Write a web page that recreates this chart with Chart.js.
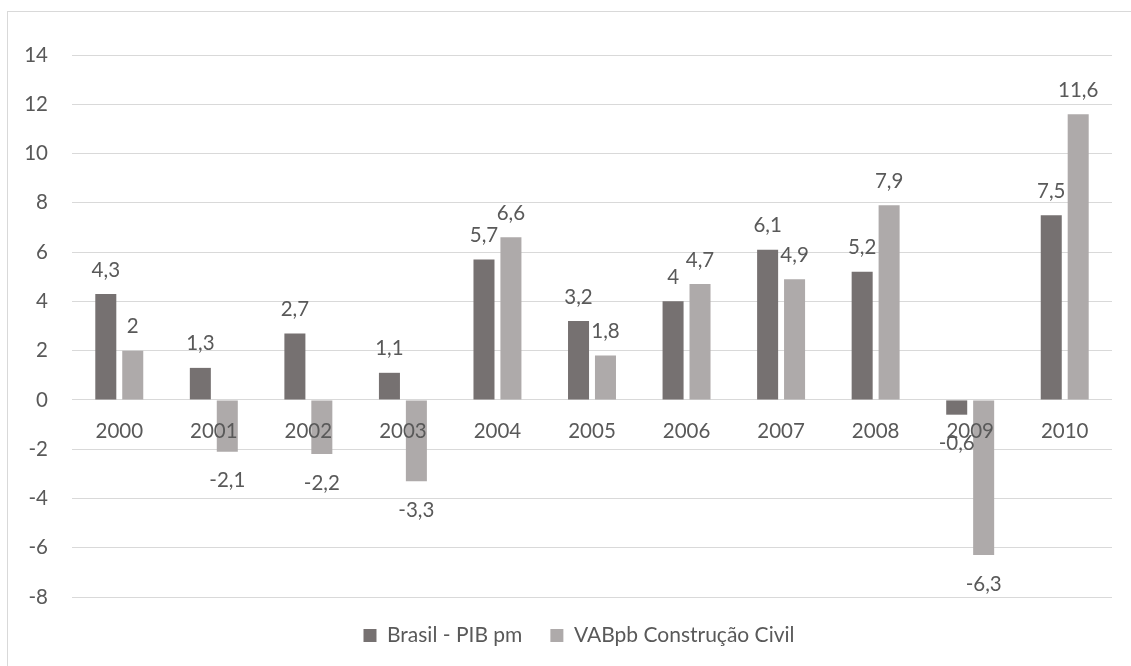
<!DOCTYPE html>
<html>
<head>
<meta charset="utf-8">
<script src="https://cdn.jsdelivr.net/npm/chart.js@4.4.0/dist/chart.umd.min.js"></script>
<style>
  html, body { margin: 0; padding: 0; background: #fff; }
  #wrap { position: relative; width: 1131px; height: 666px; overflow: hidden; }
  #frame { position: absolute; left: 7px; top: 11px; width: 1140px; height: 680px;
           border: 1.5px solid #d9d9d9; pointer-events: none; }
</style>
</head>
<body>
<div id="wrap">
  <canvas id="chart" width="1131" height="666"></canvas>
  <div id="frame"></div>
</div>
<script>
// ===== data =====
const years = ["2000", "2001", "2002", "2003", "2004", "2005", "2006", "2007", "2008", "2009", "2010"];
const pibValues = [4.3, 1.3, 2.7, 1.1, 5.7, 3.2, 4, 6.1, 5.2, -0.6, 7.5];
const vabValues = [2, -2.1, -2.2, -3.3, 6.6, 1.8, 4.7, 4.9, 7.9, -6.3, 11.6];
const yTicks = [-8, -6, -4, -2, 0, 2, 4, 6, 8, 10, 12, 14];

const textColor = "#595959";
const fontFamily = "Lato, 'Open Sans', sans-serif";

// value labels above / below each bar (Excel "outside end")
const valueLabels = {
  id: "valueLabels",
  afterDatasetsDraw(chart) {
    const c = chart.ctx;
    c.save();
    c.font = "20.5px " + fontFamily;
    c.fillStyle = textColor;
    c.textAlign = "center";
    c.textBaseline = "middle";
    chart.data.datasets.forEach((ds, i) => {
      chart.getDatasetMeta(i).data.forEach((bar, j) => {
        const v = ds.data[j];
        const txt = String(v).replace(".", ",");
        const y = v >= 0 ? bar.y - 24 : bar.y + 29;
        c.fillText(txt, bar.x, y);
      });
    });
    c.restore();
  }
};

// the legend in the original sits a little right of centre
const legendShift = {
  id: "legendShift",
  afterLayout(chart) {
    chart.legend.left += 13;
    chart.legend.right += 13;
  }
};

new Chart(document.getElementById("chart"), {
  type: "bar",
  data: {
    labels: years,
    datasets: [
      { label: "Brasil - PIB pm", data: pibValues, backgroundColor: "#767171" },
      { label: "VABpb Construção Civil", data: vabValues, backgroundColor: "#aeaaaa" }
    ]
  },
  options: {
    responsive: false,
    animation: false,
    layout: { padding: { left: 20, right: 19, top: 55, bottom: 10 } },
    datasets: { bar: { categoryPercentage: 0.57, barPercentage: 0.78 } },
    plugins: {
      tooltip: { enabled: false },
      legend: {
        position: "bottom",
        labels: {
          color: textColor,
          font: { family: fontFamily, size: 21 },
          boxWidth: 13, boxHeight: 13,
          padding: 28
        }
      }
    },
    scales: {
      x: {
        position: { y: 0 },
        grid: { display: false },
        border: { display: false },
        // z: 1 so the year labels sit on top of the bars, as in the original
        ticks: { z: 1, color: textColor, font: { family: fontFamily, size: 20.5 }, padding: 11 },
        afterFit: s => { s.height = 0; }
      },
      y: {
        min: -8, max: 14,
        afterBuildTicks: s => { s.ticks = yTicks.map(v => ({ value: v })); },
        grid: { color: "#d9d9d9", lineWidth: 1, drawTicks: false },
        border: { display: false },
        ticks: { color: textColor, font: { family: fontFamily, size: 20.5 }, padding: 24 },
        afterFit: s => { s.width = 52; }
      }
    }
  },
  plugins: [valueLabels, legendShift]
});
</script>
</body>
</html>
